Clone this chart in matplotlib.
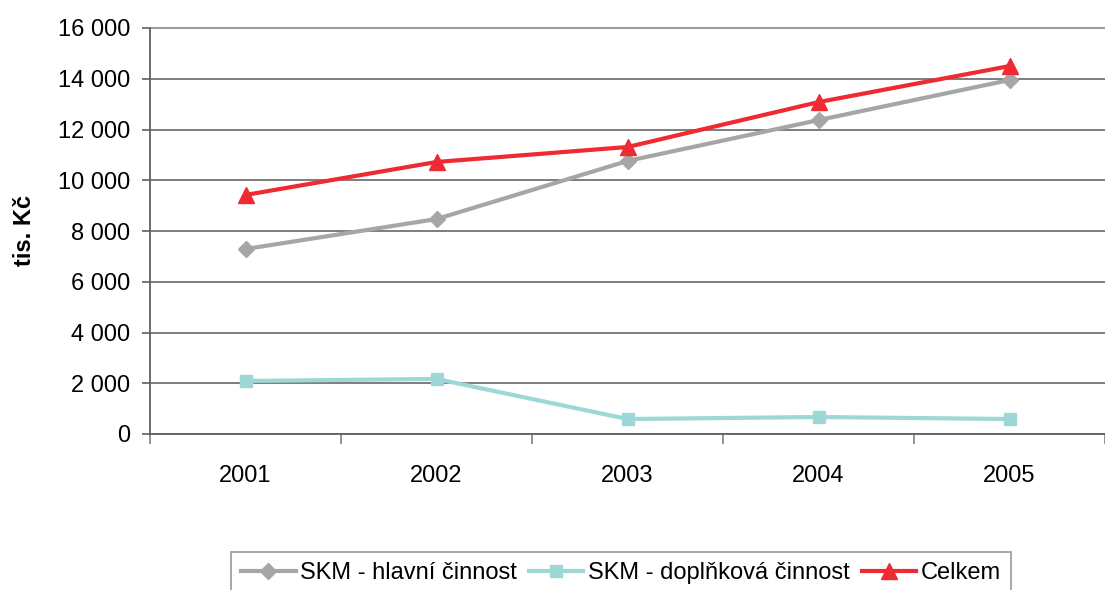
import matplotlib
matplotlib.use("Agg")
from matplotlib import pyplot as plt
from matplotlib.ticker import FuncFormatter

roky = ["2001", "2002", "2003", "2004", "2005"]
hlavni = [7290, 8470, 10760, 12370, 13950]
doplnkova = [2090, 2170, 590, 670, 590]
celkem = [9420, 10720, 11310, 13080, 14500]

plt.rcParams["font.family"] = ["Liberation Sans", "DejaVu Sans"]

fig = plt.figure(figsize=(11.05, 5.9), dpi=100)
ax = fig.add_axes([150 / 1105, 156 / 590, 955 / 1105, 406 / 590])

x = list(range(len(roky)))
ax.plot(x, hlavni, color="#a6a6a6", lw=3, marker="D", ms=8, label="SKM - hlavní činnost")
ax.plot(x, doplnkova, color="#9dd8d6", lw=3, marker="s", ms=9, label="SKM - doplňková činnost")
ax.plot(x, celkem, color="#ee2a32", lw=3, marker="^", ms=11, label="Celkem")

ax.set_ylim(0, 16000)
ax.set_yticks(range(0, 16001, 2000))
ax.yaxis.set_major_formatter(FuncFormatter(lambda v, p: "{:,}".format(int(v)).replace(",", " ")))
ax.set_xlim(-0.5, 4.45)
ax.set_xticks([i - 0.5 for i in range(len(roky) + 1)])
ax.set_xticklabels([])
ax.set_xticks(x, minor=True)
ax.set_xticklabels(roky, minor=True)
ax.tick_params(axis="x", which="minor", length=0, pad=22, labelsize=17)
ax.tick_params(axis="x", which="major", length=7, color="#808080", width=1.2)
ax.tick_params(axis="y", length=6, color="#606060", width=1.2, labelsize=17, pad=8)

ax.grid(axis="y", color="#5a5a5a", lw=1.1)
ax.set_axisbelow(True)
for s in ["top", "right"]:
    ax.spines[s].set_visible(False)
ax.spines["left"].set_color("#606060")
ax.spines["left"].set_linewidth(1.3)
ax.spines["bottom"].set_color("#606060")
ax.spines["bottom"].set_linewidth(1.3)
ax.axhline(16000, color="#a0a0a0", lw=1.5, clip_on=False)

ax.set_ylabel("tis. Kč", fontsize=17, fontweight="bold", labelpad=16)

leg = fig.legend(loc="center", bbox_to_anchor=(0.562, 0.028), ncol=3, fontsize=17,
                 frameon=True, fancybox=False, edgecolor="#808080", handlelength=2.3,
                 handletextpad=0.2, columnspacing=0.5, borderpad=0.45, borderaxespad=0)
leg.get_frame().set_linewidth(1.2)

fig.savefig("out.png", dpi=100)
